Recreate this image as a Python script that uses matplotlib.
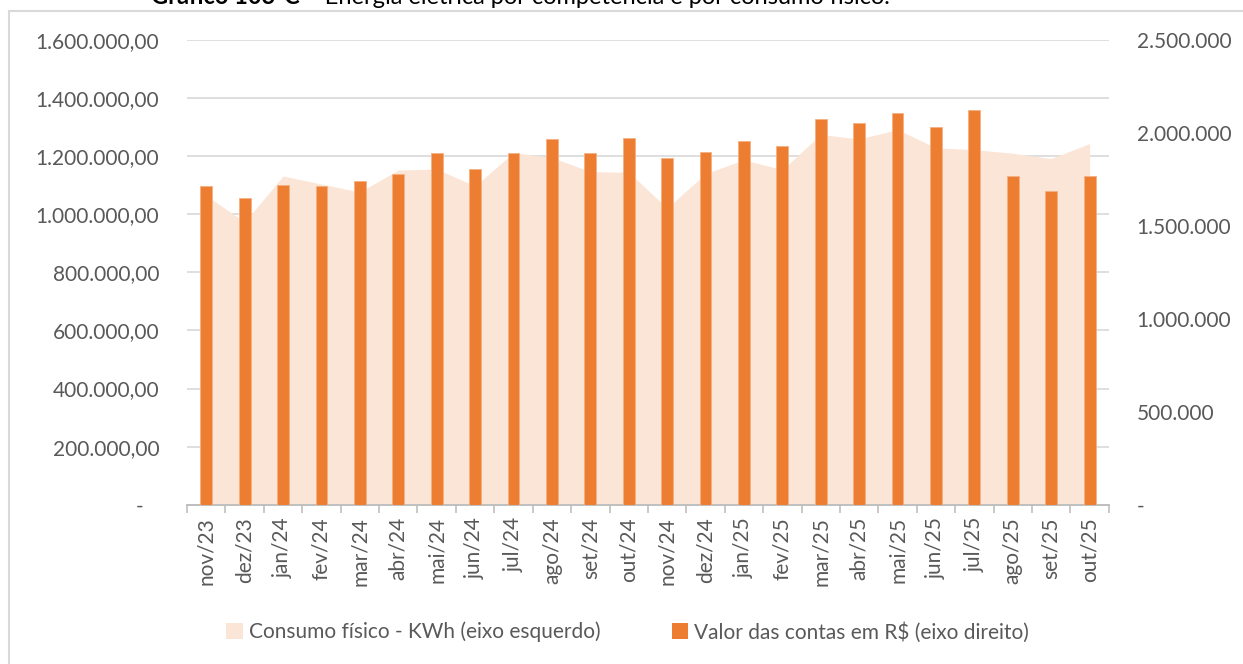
import numpy as np
import matplotlib
matplotlib.use('Agg')
import matplotlib.pyplot as plt
import matplotlib.patches as patches
from matplotlib.ticker import FuncFormatter, FixedLocator

# --- data ---
months = ["nov/23", "dez/23", "jan/24", "fev/24", "mar/24", "abr/24", "mai/24", "jun/24",
          "jul/24", "ago/24", "set/24", "out/24", "nov/24", "dez/24", "jan/25", "fev/25",
          "mar/25", "abr/25", "mai/25", "jun/25", "jul/25", "ago/25", "set/25", "out/25"]

# Consumo físico - KWh (left axis)
consumo_kwh = [1064400, 973100, 1131500, 1104000, 1076400, 1152200, 1155600, 1097100,
               1212400, 1195500, 1146600, 1144200, 1021300, 1139800, 1187300, 1153200,
               1274700, 1258900, 1291600, 1228600, 1222400, 1210000, 1191700, 1243400]

# Valor das contas em R$ (right axis)
valor_rs = [1716200, 1648400, 1719900, 1716200, 1739800, 1780700, 1892100, 1807600,
            1893700, 1967400, 1890500, 1971100, 1863600, 1899100, 1956600, 1927000,
            2073400, 2055100, 2107300, 2031900, 2121800, 1768300, 1687600, 1768300]

area_color = "#FBE5D6"
bar_color = "#ED7D31"
text_color = "#595959"

plt.rcParams['font.family'] = ['Lato', 'DejaVu Sans']

fig = plt.figure(figsize=(12.43, 6.64), dpi=100)
ax = fig.add_axes([0.1505, 0.2399, 0.7415, 0.6999])
ax2 = ax.twinx()

x = np.arange(len(months))

# area on left axis
ax.fill_between(x, consumo_kwh, 0, color=area_color, linewidth=0, zorder=1)
ax.set_ylim(0, 1600000)
ax.set_xlim(-0.5, len(months) - 0.5)
ax.set_axisbelow(True)
ax.yaxis.set_major_locator(FixedLocator(np.arange(0, 1600001, 200000)))
ax.grid(axis='y', color='#d9d9d9', linewidth=1.2)

def left_fmt(v, pos):
    if v == 0:
        return "-   "
    return f"{v:,.2f}".replace(",", "X").replace(".", ",").replace("X", ".")

ax.yaxis.set_major_formatter(FuncFormatter(left_fmt))

# bars on right axis
ax2.bar(x, valor_rs, width=0.31, color=bar_color, edgecolor='#F4B183', linewidth=0.6, zorder=3)
ax2.set_ylim(0, 2500000)
ax2.yaxis.set_major_locator(FixedLocator(np.arange(0, 2500001, 500000)))

def right_fmt(v, pos):
    if v == 0:
        return "-"
    return f"{int(v):,}".replace(",", ".")

ax2.yaxis.set_major_formatter(FuncFormatter(right_fmt))

for a in (ax, ax2):
    for s in ("top", "left", "right"):
        a.spines[s].set_visible(False)
    a.spines["bottom"].set_color("#bfbfbf")
    a.spines["bottom"].set_linewidth(1.2)
    a.tick_params(axis='y', length=0, labelsize=15, labelcolor=text_color, pad=20)

# x ticks: labels at centers, tick marks at boundaries
ax.set_xticks(x)
ax.set_xticklabels(months, rotation=90, fontsize=15, color=text_color)
ax.tick_params(axis='x', which='major', length=0, pad=9)
ax.set_xticks(np.arange(-0.5, len(months)), minor=True)
ax.tick_params(axis='x', which='minor', length=6, color='#bfbfbf', width=1.2)

# legend
handles = [patches.Patch(facecolor=area_color, edgecolor='none', label="Consumo físico - KWh (eixo esquerdo)"),
           patches.Patch(facecolor=bar_color, edgecolor='none', label="Valor das contas em R$ (eixo direito)")]
leg = fig.legend(handles=handles, loc='center', bbox_to_anchor=(0.505, 0.048), ncol=2,
                 frameon=False, fontsize=15, handlelength=0.8, handleheight=0.8,
                 handletextpad=0.3, columnspacing=3.4)
for t in leg.get_texts():
    t.set_color(text_color)

# outer chart frame
frame = patches.Rectangle((9 / 1243, -0.02), 1.1, 0.9834 + 0.02, transform=fig.transFigure,
                          fill=False, edgecolor='#d9d9d9', linewidth=1.5, clip_on=False)
fig.patches.append(frame)

# title, cut off at top as in the source
ty = 1 - 3.5 / 664
fig.text(300 / 1243, ty, "Gráfico 103-C", ha='right', va='baseline', fontsize=17,
         fontweight='bold', color='black')
fig.text(305 / 1243, ty, "– Energia elétrica por competência e por consumo físico.", ha='left',
         va='baseline', fontsize=17, color='black')

fig.savefig("out.png", dpi=100)
